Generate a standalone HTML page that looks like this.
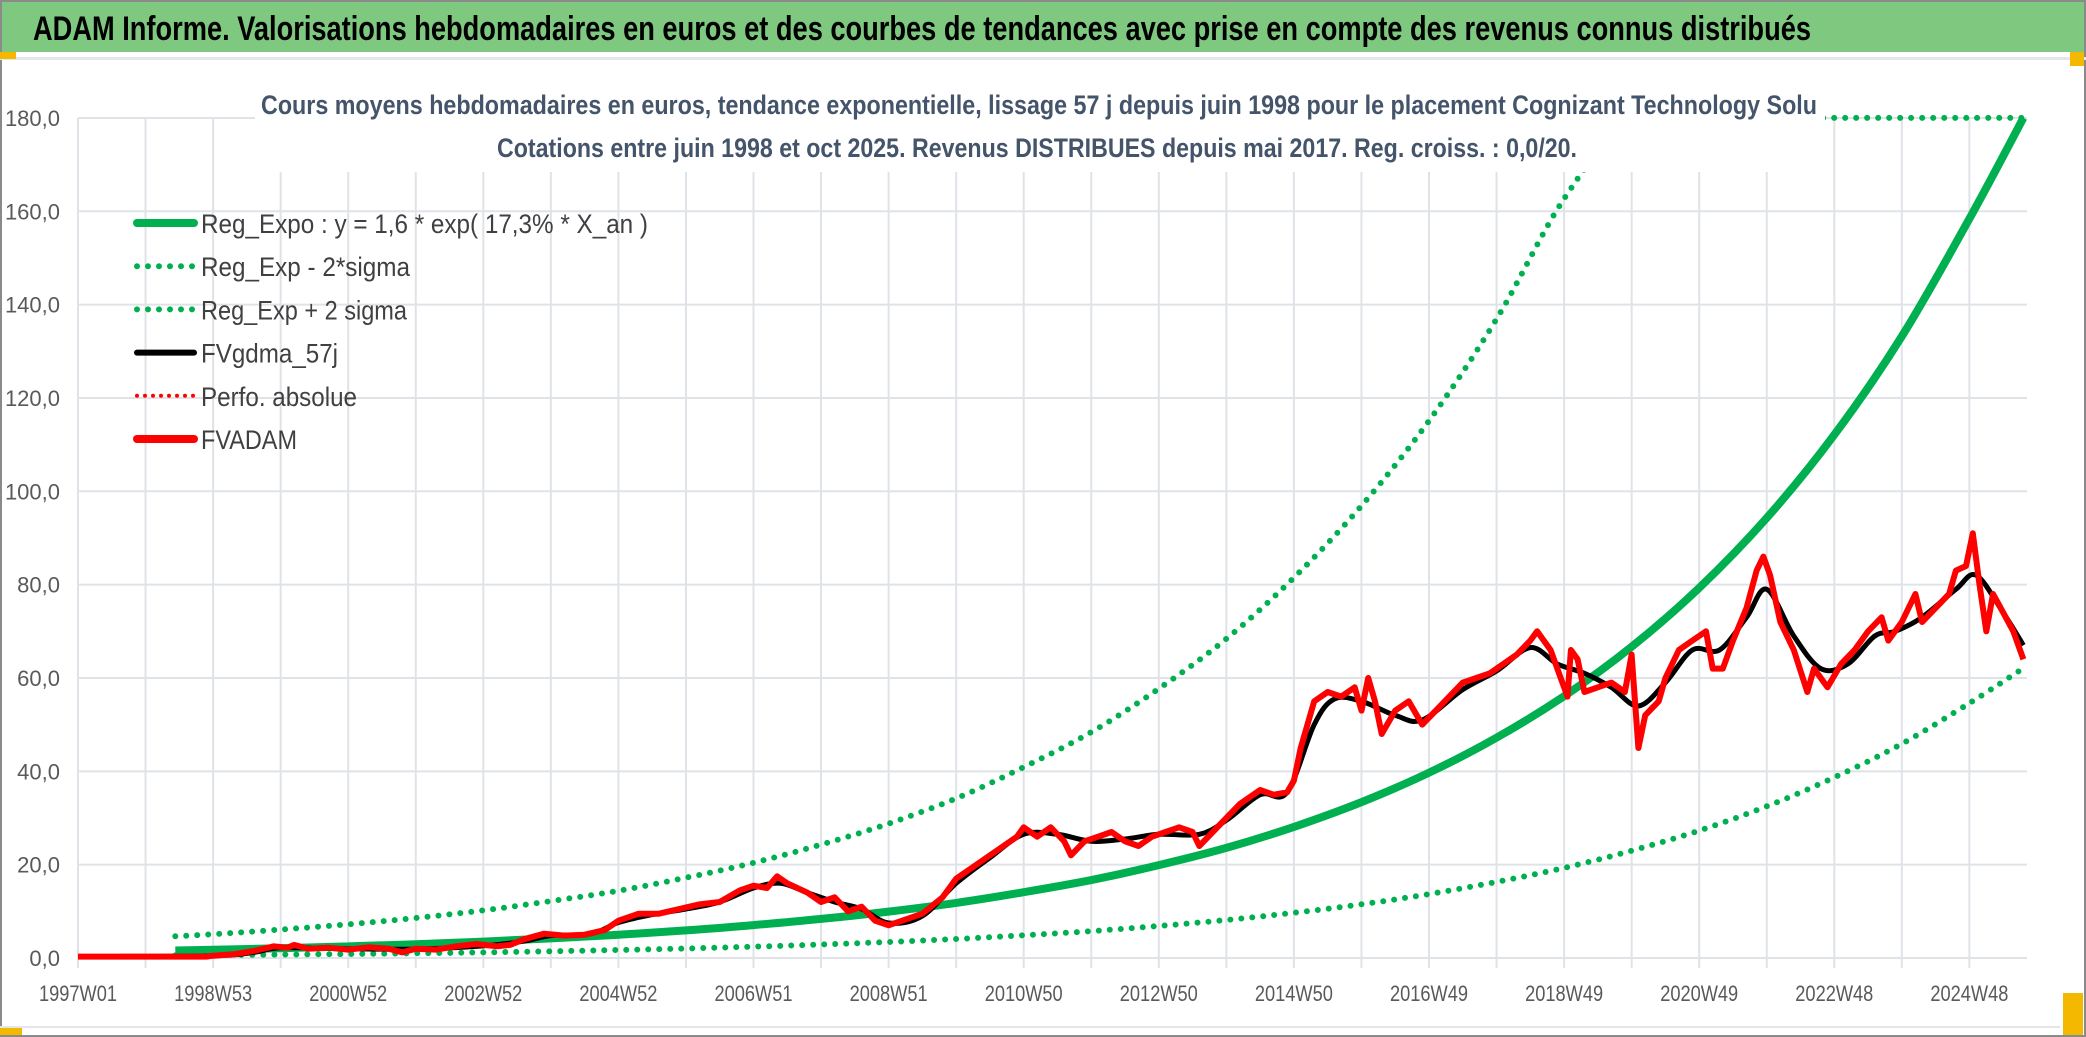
<!DOCTYPE html>
<html><head><meta charset="utf-8"><style>
html,body{margin:0;padding:0;background:#fff;}
svg{display:block;}
</style></head><body>
<svg id="chart" width="2086" height="1037" viewBox="0 0 2086 1037" xmlns="http://www.w3.org/2000/svg" font-family="'Liberation Sans', sans-serif">
  <rect x="0" y="0" width="2086" height="1037" fill="#fff"/>
  <rect x="1" y="1" width="2084" height="1035" fill="none" stroke="#8a8a8a" stroke-width="2"/>
  <rect x="2" y="2" width="2082" height="50" fill="#7ec87f"/>
  <text x="33" y="40" font-size="34" font-weight="bold" fill="#000" textLength="1778" lengthAdjust="spacingAndGlyphs">ADAM Informe. Valorisations hebdomadaires en euros et des courbes de tendances avec prise en compte des revenus connus distribués</text>
  <rect x="0" y="57" width="2086" height="3" fill="#e3e6ea"/>
  <rect x="0" y="52" width="16" height="7" fill="#f5b800"/>
  <rect x="2070" y="52" width="14" height="14" fill="#f5b800"/>
  <rect x="0" y="1027" width="22" height="8" fill="#f5b800"/>
  <rect x="2063" y="993" width="20" height="42" fill="#f5b800"/>
  <rect x="0" y="1026" width="2060" height="2" fill="#e3e6ea"/>
  <g id="grid"></g>
  <g id="yaxis"></g>
  <g id="xaxis"></g>
  <defs><clipPath id="plotclip"><rect x="78" y="112" width="1952" height="856"/></clipPath></defs>
  <g id="series" clip-path="url(#plotclip)"></g>
  <rect x="255" y="84" width="1570" height="88" fill="#fff"/>
  <text x="261" y="114" font-size="27" font-weight="bold" fill="#44546a" textLength="1556" lengthAdjust="spacingAndGlyphs">Cours moyens hebdomadaires en euros, tendance exponentielle, lissage 57 j depuis juin 1998 pour le placement Cognizant Technology Solu</text>
  <text x="497" y="157" font-size="27" font-weight="bold" fill="#44546a" textLength="1080" lengthAdjust="spacingAndGlyphs">Cotations entre juin 1998 et oct 2025. Revenus DISTRIBUES depuis mai 2017. Reg. croiss. : 0,0/20.</text>
  <g id="legend"></g>
</svg>
<script>
// ---- data ----
const regYears = [1998.44,1999,2000,2001,2002,2003,2004,2005,2006,2007,2008,2009,2010,2011,2012,2013,2014,2015,2016,2017,2018,2019,2020,2021,2022,2023,2024,2025,2025.8];
const regValues = [1.60,1.76,2.10,2.49,2.96,3.52,4.19,4.98,5.92,7.04,8.37,9.94,11.8,14.1,16.7,19.9,23.6,28.1,33.4,39.7,47.2,56.1,66.7,79.3,94.3,112.1,133.2,158.4,180];
const upperValues = [4.64,5.10,6.09,7.22,8.58,10.2,12.2,14.4,17.2,20.4,24.3,28.8,34.2,40.9,48.4,57.7,68.4,81.5,96.9,115.1,136.9,162.7,193.4,230,273,325,386,459,522];
const lowerValues = [0.55,0.61,0.72,0.86,1.02,1.21,1.44,1.72,2.04,2.43,2.89,3.43,4.07,4.86,5.76,6.86,8.14,9.69,11.5,13.7,16.3,19.3,23.0,27.3,32.5,38.7,45.9,54.6,62.1];
const adamYears = [1997.0,1998.9,1999.0,1999.3,1999.6,1999.9,2000.1,2000.2,2000.4,2000.7,2001.0,2001.3,2001.6,2001.8,2002.0,2002.3,2002.6,2002.9,2003.2,2003.4,2003.6,2003.9,2004.2,2004.5,2004.8,2005.0,2005.3,2005.6,2005.9,2006.2,2006.5,2006.8,2007.0,2007.2,2007.35,2007.5,2007.8,2008.0,2008.2,2008.4,2008.6,2008.8,2009.0,2009.2,2009.5,2009.8,2010.0,2010.3,2010.6,2010.9,2011.0,2011.2,2011.4,2011.6,2011.7,2011.9,2012.1,2012.3,2012.5,2012.7,2012.9,2013.1,2013.3,2013.5,2013.6,2013.8,2014.0,2014.2,2014.5,2014.7,2014.9,2015.0,2015.1,2015.3,2015.5,2015.7,2015.9,2016.0,2016.1,2016.2,2016.3,2016.5,2016.7,2016.9,2017.1,2017.3,2017.5,2017.7,2017.9,2018.1,2018.3,2018.5,2018.6,2018.8,2018.95,2019.05,2019.1,2019.2,2019.3,2019.5,2019.7,2019.9,2020.0,2020.1,2020.2,2020.4,2020.5,2020.7,2020.9,2021.1,2021.2,2021.35,2021.5,2021.7,2021.85,2021.95,2022.05,2022.2,2022.4,2022.6,2022.7,2022.9,2023.1,2023.3,2023.5,2023.7,2023.8,2024.0,2024.2,2024.3,2024.5,2024.7,2024.8,2024.95,2025.05,2025.15,2025.25,2025.35,2025.5,2025.65,2025.8];
const adamValues = [0.3,0.3,0.5,0.8,1.5,2.5,2.2,2.8,2.0,2.2,1.8,2.3,2.0,1.2,2.0,1.8,2.5,3.0,2.5,2.8,4.0,5.2,4.8,5.0,6.0,8.0,9.5,9.5,10.5,11.5,12.0,14.5,15.5,15.0,17.5,16,14,12,13,10,11,8,7,8,9.5,13,17,20,23,26,28,26,28,25,22,25,26,27,25,24,26,27,28,27,24,27,30,33,36,35,35.5,38,45,55,57,56,58,53,60,55,48,53,55,50,53,56,59,60,61,63,65,68,70,66,60,56,66,64,57,58,59,57,65,45,52,55,60,66,68,70,62,62,68,75,83,86,82,72,66,57,62,58,63,66,70,73,68,72,78,72,75,78,83,84,91,80,70,78,74,70,64];
const smaYears = [1997,1999,1999.6,2000,2001,2002,2003,2003.6,2004,2004.6,2005,2005.5,2006,2006.5,2007,2007.4,2007.8,2008.2,2008.6,2009,2009.5,2010,2010.5,2011,2011.5,2012,2012.5,2013,2013.6,2014,2014.5,2014.9,2015.3,2015.6,2016,2016.5,2016.9,2017.5,2018,2018.5,2018.9,2019.3,2019.7,2020.1,2020.5,2020.9,2021.3,2021.7,2022,2022.4,2022.8,2023.2,2023.6,2023.9,2024.3,2024.8,2025.1,2025.5,2025.8];
const smaValues = [0.3,0.5,1.2,2.2,2.0,1.9,2.6,3.6,4.8,5.2,7.6,9.3,10.5,12,15,16,14,12,10.5,7.5,9,16,21.5,26.5,26.5,25,25.5,26.5,26.5,29.5,35,35.5,50,55.5,55,52,51,57.5,61.5,66.5,63,61,58,54,59,66,66,73,79,69,62,63,69,70,73,79,82,74,67];
const yTicks = [0,20,40,60,80,100,120,140,160,180];
const yTickLabels = ["0,0","20,0","40,0","60,0","80,0","100,0","120,0","140,0","160,0","180,0"];
const xTickYears = [1997,1999,2001,2003,2005,2007,2009,2011,2013,2015,2017,2019,2021,2023,2025];
const xTickLabels = ["1997W01","1998W53","2000W52","2002W52","2004W52","2006W51","2008W51","2010W50","2012W50","2014W50","2016W49","2018W49","2020W49","2022W48","2024W48"];
const legendLabels = ["Reg_Expo : y = 1,6 * exp( 17,3% *  X_an )","Reg_Exp - 2*sigma","Reg_Exp + 2 sigma","FVgdma_57j","Perfo. absolue","FVADAM"];

// ---- scales ----
const X0 = 78, PXY = 67.55, Y0 = 958, PXV = 4.667, XMAX = 2027, YTOP = 118;
const xs = t => X0 + (t - 1997) * PXY;
const ys = v => Y0 - v * PXV;
const NS = "http://www.w3.org/2000/svg";
function mk(tag, attrs, parent){ const e = document.createElementNS(NS, tag); for (const k in attrs) e.setAttribute(k, attrs[k]); parent.appendChild(e); return e; }

// grid
const grid = document.getElementById('grid');
for (let yr = 1997; xs(yr) <= XMAX + 1; yr++) {
  const l = mk('line', {x1: xs(yr), x2: xs(yr), y1: YTOP, y2: Y0 + 10, stroke: '#dfe3e8', 'stroke-width': 2}, grid);
  
  
}
yTicks.forEach(v => {
  const l = mk('line', {x1: X0, x2: XMAX, y1: ys(v), y2: ys(v), stroke: '#dfe3e8', 'stroke-width': 2}, grid);
  
  
});
// y labels
const yax = document.getElementById('yaxis');
yTicks.forEach((v, i) => {
  const t = mk('text', {x: 60, y: ys(v) + 8, 'text-anchor': 'end', 'font-size': 22, fill: '#595959'}, yax);
  t.textContent = yTickLabels[i];
  
  
});
// x labels
const xax = document.getElementById('xaxis');
xTickYears.forEach((yr, i) => {
  const t = mk('text', {x: xs(yr), y: 1001, 'text-anchor': 'middle', 'font-size': 22, fill: '#595959', textLength: 78, lengthAdjust: 'spacingAndGlyphs'}, xax);
  t.textContent = xTickLabels[i];
  
  
});

function smoothPath(ts, vs){
  const p = ts.map((t, i) => [xs(t), ys(Math.min(vs[i], 180))]);
  let d = 'M' + p[0][0].toFixed(1) + ' ' + p[0][1].toFixed(1);
  for (let i = 0; i < p.length - 1; i++) {
    const a = p[Math.max(0, i - 1)], b = p[i], c = p[i + 1], e = p[Math.min(p.length - 1, i + 2)];
    const c1 = [b[0] + (c[0] - a[0]) / 6, b[1] + (c[1] - a[1]) / 6];
    const c2 = [c[0] - (e[0] - b[0]) / 6, c[1] - (e[1] - b[1]) / 6];
    d += ' C' + c1[0].toFixed(1) + ' ' + c1[1].toFixed(1) + ' ' + c2[0].toFixed(1) + ' ' + c2[1].toFixed(1) + ' ' + c[0].toFixed(1) + ' ' + c[1].toFixed(1);
  }
  return d;
}
function linePath(ts, vs){
  return ts.map((t, i) => (i ? 'L' : 'M') + xs(t).toFixed(1) + ' ' + ys(vs[i]).toFixed(1)).join(' ');
}
const ser = document.getElementById('series');
const sUp = mk('path', {d: smoothPath(regYears, upperValues), fill: 'none', stroke: '#00b050', 'stroke-width': 6, 'stroke-dasharray': '0 11', 'stroke-linecap': 'round'}, ser);


const sLo = mk('path', {d: smoothPath(regYears, lowerValues), fill: 'none', stroke: '#00b050', 'stroke-width': 6, 'stroke-dasharray': '0 11', 'stroke-linecap': 'round'}, ser);


const sReg = mk('path', {d: smoothPath(regYears, regValues), fill: 'none', stroke: '#00b050', 'stroke-width': 8}, ser);


const sSma = mk('path', {d: smoothPath(smaYears, smaValues), fill: 'none', stroke: '#000', 'stroke-width': 5, 'stroke-linejoin': 'round'}, ser);


const sAdam = mk('path', {d: linePath(adamYears, adamValues), fill: 'none', stroke: '#ff0000', 'stroke-width': 6, 'stroke-linejoin': 'round'}, ser);



// legend
const leg = document.getElementById('legend');
const legStyles = [
  {stroke: '#00b050', w: 8, dash: null},
  {stroke: '#00b050', w: 6, dash: '0 11'},
  {stroke: '#00b050', w: 6, dash: '0 11'},
  {stroke: '#000', w: 6, dash: null},
  {stroke: '#ff0000', w: 4, dash: '0 8'},
  {stroke: '#ff0000', w: 8, dash: null}
];
const legLens = [447, 209, 206, 137, 156, 96];
legendLabels.forEach((lab, i) => {
  const cy = 223 + i * 43.2;
  const g = mk('g', {}, leg);
  
  
  const st = legStyles[i];
  const ln = mk('line', {x1: 137, x2: 194, y1: cy, y2: cy, stroke: st.stroke, 'stroke-width': st.w, 'stroke-linecap': 'round'}, g);
  if (st.dash) ln.setAttribute('stroke-dasharray', st.dash);
  
  
  const t = mk('text', {x: 201, y: cy + 10, 'font-size': 27, fill: '#404040', textLength: legLens[i], lengthAdjust: 'spacingAndGlyphs'}, g);
  t.textContent = lab;
  
  
});
</script>
</body></html>
